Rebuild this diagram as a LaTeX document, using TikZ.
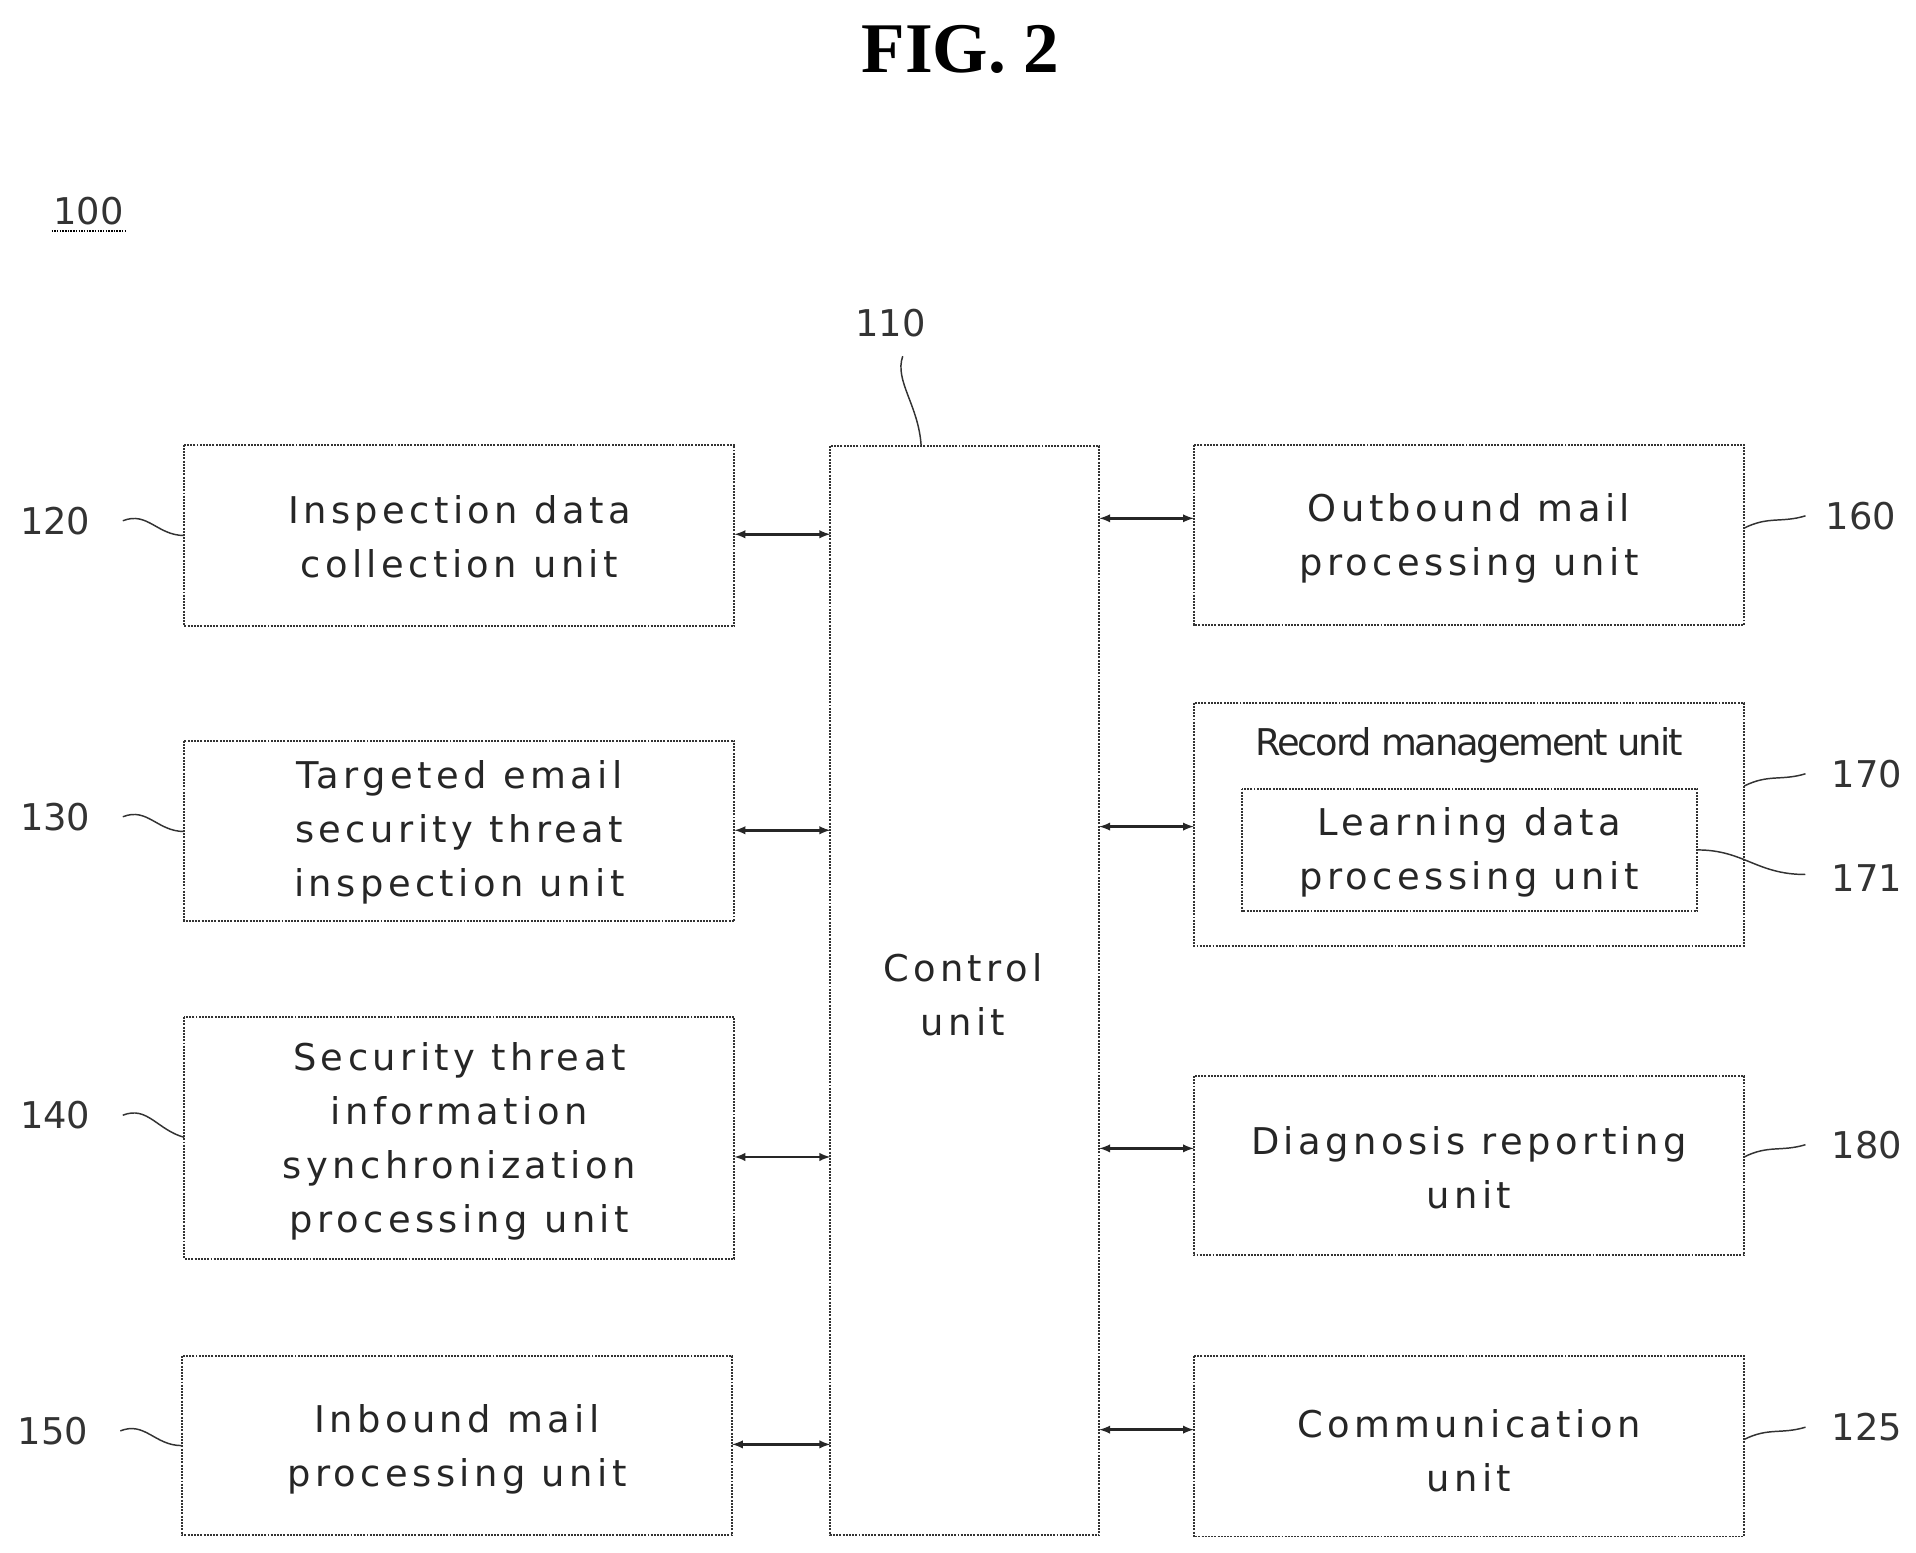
\documentclass[tikz,border=0pt]{standalone}
\usepackage{fontspec}
\setmainfont{Liberation Serif}
\newfontfamily\gfont[LetterSpace=12]{DejaVu Sans}
\newfontfamily\tfont{DejaVu Sans}
\begin{document}
\begin{tikzpicture}[x=1pt,y=-1pt,
  box/.style={draw=black!80,densely dotted,line width=1.6pt},
  txt/.style={font=\fontsize{30}{44}\selectfont\gfont,align=center,text=black!85},
  lbl/.style={font=\fontsize{30}{36}\selectfont\tfont,text=black!80},
  arr/.style={<->,>=latex,line width=2pt,black!85},
  sq/.style={line width=1.2pt,black!80}]
\useasboundingbox (0,0) rectangle (1560,1264);
\node[font=\fontsize{58}{60}\selectfont\bfseries] (title) at (782,40) {FIG. 2};
\node[lbl] (l100) at (72,172) {100};
\draw[densely dotted,line width=1.2pt] (42,188) -- (103,188);
% boxes
\draw[box] (150,362) rectangle (598,510); \coordinate (b120) at (150,435);
\node[txt] (t120) at (374,437) {Inspection data\\collection unit};
\draw[box] (150,603) rectangle (598,750); \coordinate (b130) at (150,676);
\node[txt] (t130) at (374,678) {Targeted email\\security threat\\inspection unit};
\draw[box] (150,828) rectangle (598,1025); \coordinate (b140) at (150,926);
\node[txt] (t140) at (374,929) {Security threat\\information\\synchronization\\processing unit};
\draw[box] (148,1104) rectangle (596,1250); \coordinate (b150) at (148,1177);
\node[txt] (t150) at (372,1180) {Inbound mail\\processing unit};
\draw[box] (676,363) rectangle (895,1250);
\node[txt] (tc) at (784,810) {Control\\unit};
\draw[box] (972,362) rectangle (1420,509);
\node[txt] (t160) at (1196,438) {Outbound mail\\processing unit};
\draw[box] (972,572) rectangle (1420,770);
\node[font=\fontsize{30}{36}\selectfont\tfont,text=black!85] (t170) at (1196,607) {\addfontfeature{LetterSpace=-6}Record management unit};
\draw[box] (1011,642) rectangle (1382,742);
\node[txt] (t171) at (1196,694) {Learning data\\processing unit};
\draw[box] (972,876) rectangle (1420,1022);
\node[txt] (t180) at (1196,951) {Diagnosis reporting\\unit};
\draw[box] (972,1104) rectangle (1420,1251);
\node[txt] (t125) at (1196,1181) {Communication\\unit};
% arrows
\coordinate (a1) at (598,435); \coordinate (a2) at (676,435);
\coordinate (a3) at (598,676); \coordinate (a4) at (676,676);
\coordinate (a5) at (598,942); \coordinate (a6) at (676,942);
\coordinate (a7) at (596,1176); \coordinate (a8) at (676,1176);
\draw[arr] (a1) -- (a2); \draw[arr] (a3) -- (a4); \draw[arr] (a5) -- (a6); \draw[arr] (a7) -- (a8);
\coordinate (c1) at (895,422); \coordinate (c2) at (972,422);
\coordinate (c3) at (895,673); \coordinate (c4) at (972,673);
\coordinate (c5) at (895,935); \coordinate (c6) at (972,935);
\coordinate (c7) at (895,1164); \coordinate (c8) at (972,1164);
\draw[arr] (c1) -- (c2); \draw[arr] (c3) -- (c4); \draw[arr] (c5) -- (c6); \draw[arr] (c7) -- (c8);
% left labels
\node[lbl] (l120) at (45,424) {120};
\node[lbl] (l130) at (45,665) {130};
\node[lbl] (l140) at (45,908) {140};
\node[lbl] (l150) at (43,1165) {150};
\draw[sq] (100,424) .. controls (120,416) and (128,436) .. (150,436);
\draw[sq] (100,665) .. controls (120,657) and (128,677) .. (150,677);
\draw[sq] (100,908) .. controls (120,900) and (128,920) .. (150,926);
\draw[sq] (98,1165) .. controls (118,1157) and (126,1177) .. (148,1177);
% right labels
\node[lbl] (l160) at (1515,420) {160};
\node[lbl] (l170) at (1520,630) {170};
\node[lbl] (l171) at (1520,715) {171};
\node[lbl] (l180) at (1520,932) {180};
\node[lbl] (l125) at (1520,1162) {125};
\draw[sq] (1420,430) .. controls (1440,420) and (1450,426) .. (1470,420);
\draw[sq] (1420,640) .. controls (1440,630) and (1450,636) .. (1470,630);
\draw[sq] (1382,692) .. controls (1420,692) and (1430,712) .. (1470,712);
\draw[sq] (1420,942) .. controls (1440,932) and (1450,938) .. (1470,932);
\draw[sq] (1420,1172) .. controls (1440,1162) and (1450,1168) .. (1470,1162);
% 110
\node[lbl] (l110) at (725,263) {110};
\draw[sq] (735,290) .. controls (728,310) and (748,330) .. (750,363);
\end{tikzpicture}
\end{document}
